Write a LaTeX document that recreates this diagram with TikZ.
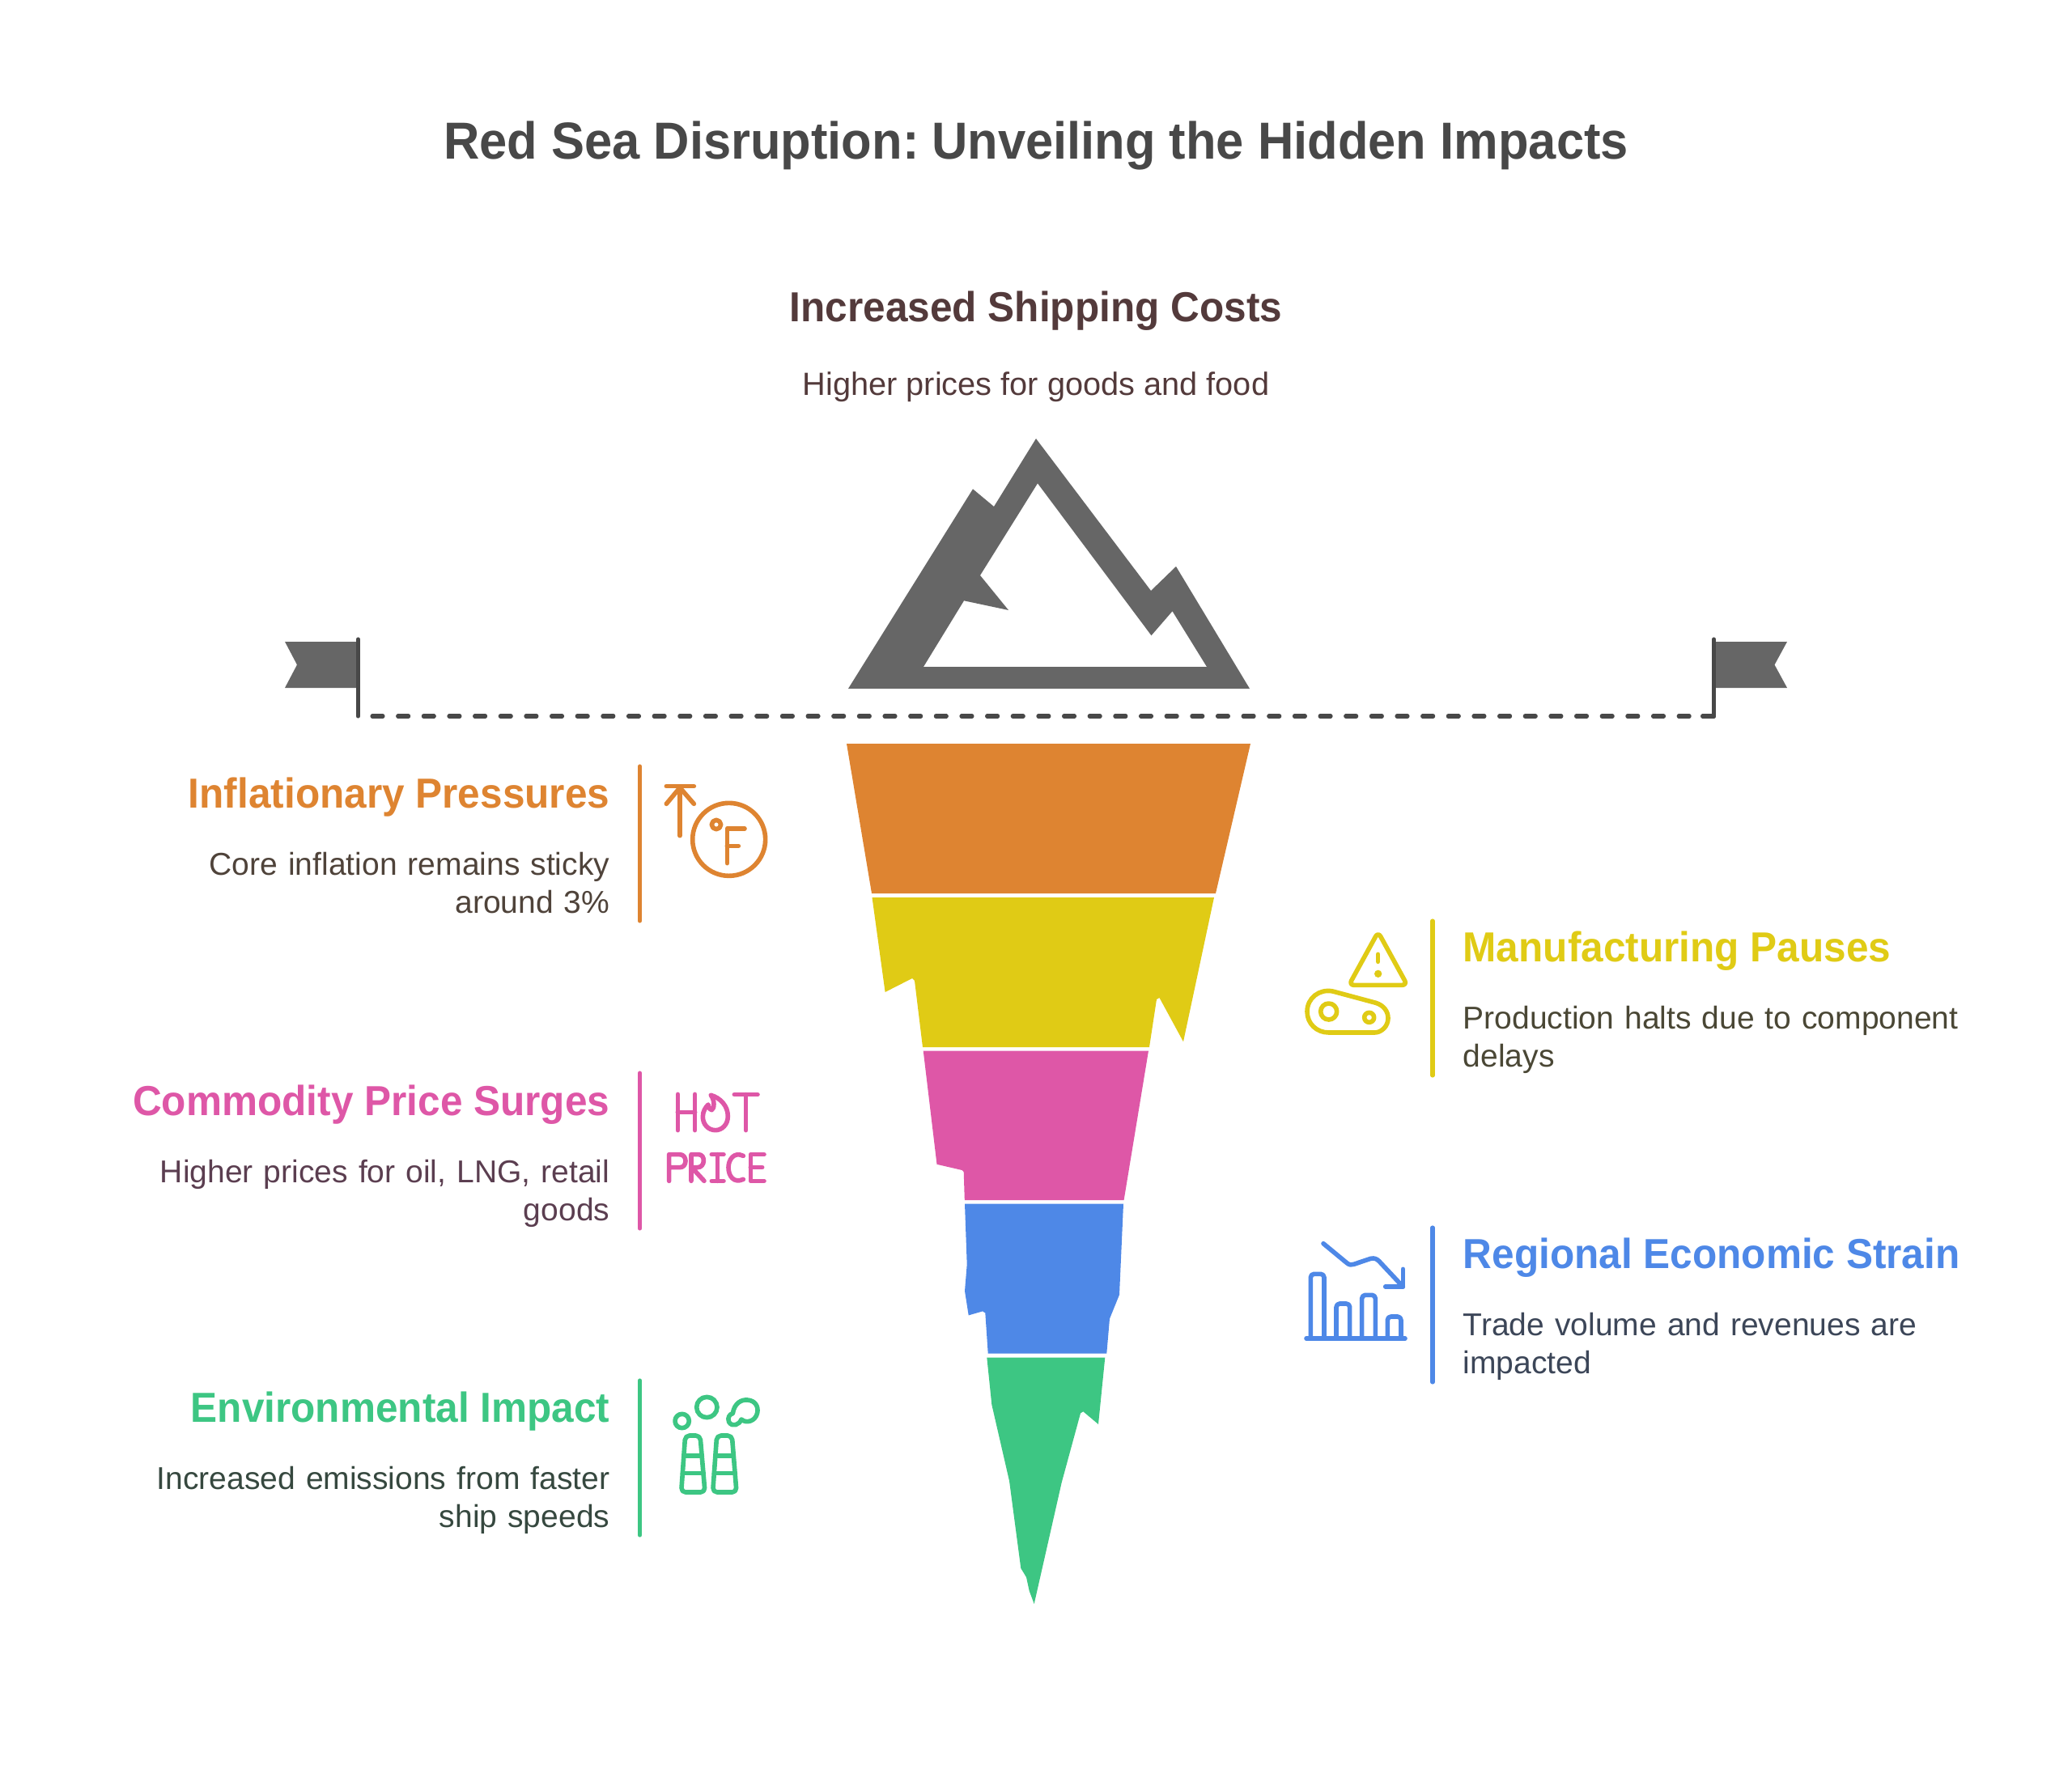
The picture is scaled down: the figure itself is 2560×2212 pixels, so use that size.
\documentclass[tikz,border=0pt]{standalone}
\usepackage{fontspec}
\setmainfont[BoldFeatures={FakeStretch=0.955}]{Liberation Sans}
\definecolor{cTitle}{HTML}{484848}
\definecolor{cTop}{HTML}{533A3B}
\definecolor{cGrey}{HTML}{666666}
\definecolor{cLine}{HTML}{484848}
\definecolor{cOrange}{HTML}{DE8431}
\definecolor{cYellow}{HTML}{E0CB15}
\definecolor{cPink}{HTML}{DE57A7}
\definecolor{cBlue}{HTML}{4E88E7}
\definecolor{cGreen}{HTML}{3DC683}
\definecolor{dOrange}{HTML}{4F433A}
\definecolor{dYellow}{HTML}{4A4735}
\definecolor{dPink}{HTML}{5B3E50}
\definecolor{dBlue}{HTML}{3C4658}
\definecolor{dGreen}{HTML}{36483F}
\tikzset{
  head/.style={font=\fontsize{14.75}{17}\selectfont\bfseries, inner sep=0pt},
  desc/.style={font=\fontsize{11.1}{13.6}\selectfont, inner sep=0pt, text width=7cm},
  ico/.style={line width=1.6pt, line cap=round, line join=round},
  bar/.style={line width=1.45pt, line cap=round},
}
\begin{document}
\begin{tikzpicture}[x=0.01cm, y=-0.01cm]
\useasboundingbox (0,0) rectangle (2560,2212);
% title
\node[font=\fontsize{18.3}{22}\selectfont\bfseries, text=cTitle, inner sep=0pt, anchor=base] (title) at (1280,196) {Red Sea Disruption:\hspace{-2pt} Unveiling the Hidden Impacts};
\node[head, text=cTop, anchor=base] (topHead) at (1280,397) {Increased Shipping Costs};
\node[font=\fontsize{11.3}{13.6}\selectfont, text=cTop, inner sep=0pt, anchor=base] (topDesc) at (1280,488) {Higher prices for goods and food};
% mountain
\fill[cGrey, even odd rule] (1048,851) -- (1202,604.3) -- (1228,626) -- (1280,542) -- (1422,730) -- (1453,700) -- (1544,851) -- cycle
  (1141,824) -- (1191,742.3) -- (1246,754) -- (1211,711) -- (1282,597.3) -- (1422.5,785.3) -- (1448.5,755.3) -- (1491,824) -- cycle;
% flags and water line
\fill[cGrey] (352,793) -- (440,793) -- (440,850) -- (352,850) -- (367,821.5) -- cycle;
\fill[cGrey] (2120,793) -- (2208,793) -- (2192.5,821.5) -- (2208,850) -- (2120,850) -- cycle;
\coordinate (poleL) at (442.5,885);
\coordinate (poleLtop) at (442.5,790);
\coordinate (poleR) at (2117.5,885);
\coordinate (poleRtop) at (2117.5,790);
\coordinate (lineL) at (460,885);
\draw[cLine, bar] (poleLtop) -- (poleL);
\draw[cLine, bar, line join=round] (poleRtop) -- (poleR) -- ++(-14,0);
\draw[cLine, bar, dash pattern=on 3.7pt off 5.3pt] (lineL) -- (poleR);
% iceberg layers
\fill[cOrange] (1046,919) -- (1545,919) -- (1502,1104) -- (1077,1104) -- cycle;
\fill[cYellow] (1077.5,1109) -- (1500,1109) -- (1462,1287.3) -- (1432.5,1233) -- (1429,1235) -- (1420,1294) -- (1140,1294) -- (1130,1212) -- (1127,1209) -- (1093.6,1226) -- cycle;
\fill[cPink] (1140.7,1298.5) -- (1419,1298.5) -- (1388.6,1483) -- (1191.8,1483) -- (1190.7,1448) -- (1188.6,1446) -- (1157.5,1438.8) -- cycle;
\fill[cBlue] (1192,1487.5) -- (1388,1487.5) -- (1383,1600) -- (1371,1629.6) -- (1367.3,1672.5) -- (1220.7,1672.5) -- (1217.3,1622.5) -- (1214,1620.4) -- (1196.7,1625.4) -- (1192,1595.4) -- (1194.7,1562.5) -- cycle;
\fill[cGreen] (1219.3,1677.5) -- (1365.3,1677.5) -- (1357,1760) -- (1338.3,1744.3) -- (1335,1746.4) -- (1311.7,1832) -- (1277.7,1982) -- (1271.7,1966) -- (1268,1949) -- (1261.3,1938) -- (1247,1830) -- (1225.3,1735.7) -- cycle;
% left column
\coordinate (orangeA) at (790.5,947);
\coordinate (orangeB) at (790.5,1138);
\coordinate (pinkA) at (790.5,1326);
\coordinate (pinkB) at (790.5,1518);
\coordinate (greenA) at (790.5,1706);
\coordinate (greenB) at (790.5,1897);
\draw[bar, cOrange] (orangeA) -- (orangeB);
\draw[bar, cPink] (pinkA) -- (pinkB);
\draw[bar, cGreen] (greenA) -- (greenB);
\node[head, text=cOrange, anchor=base east] (inflHead) at (754,998) {Inflationary Pressures};
\node[desc, align=right, text=dOrange, anchor=base east] (inflDesc) at (754,1081) {Core inflation remains sticky\\around 3\%};
\node[head, text=cPink, anchor=base east] (commHead) at (754,1378) {Commodity Price Surges};
\node[desc, align=right, text=dPink, anchor=base east] (commDesc) at (754,1461) {Higher prices for oil, LNG, retail\\goods};
\node[head, text=cGreen, anchor=base east] (envHead) at (754,1757) {Environmental Impact};
\node[desc, align=right, text=dGreen, anchor=base east] (envDesc) at (754,1840) {Increased emissions from faster\\ship speeds};
% right column
\coordinate (yellowA) at (1770,1138);
\coordinate (yellowB) at (1770,1329);
\coordinate (blueA) at (1770,1517);
\coordinate (blueB) at (1770,1708);
\draw[bar, cYellow] (yellowA) -- (yellowB);
\draw[bar, cBlue] (blueA) -- (blueB);
\node[head, text=cYellow, anchor=base west] (manuHead) at (1807,1188) {Manufacturing Pauses};
\node[desc, align=left, text=dYellow, anchor=base west] (manuDesc) at (1807,1271) {Production halts due to component\\delays};
\node[head, text=cBlue, anchor=base west] (regHead) at (1807,1567) {Regional Economic Strain};
\node[desc, align=left, text=dBlue, anchor=base west] (regDesc) at (1807,1650) {Trade volume and revenues are\\impacted};
% icon: temperature
\begin{scope}[shift={(780,940)}, scale=1/3, ico, cOrange]
  \draw (130,95) -- (232,95);
  \draw (180,278) -- (180,100);
  \draw (130,160) -- (180,100) -- (232,160);
  \draw (362,292) circle (135);
  \draw (315,237) circle (17);
  \draw (355,380) -- (355,252) -- (420,252);
  \draw (355,316) -- (397,316);
\end{scope}
% icon: hot price
\begin{scope}[shift={(790,1320)}, scale=1/3, ico, cPink]
  \draw (142,97) -- (142,230) (206,97) -- (206,230) (142,163) -- (206,163);
  \draw (265,100) .. controls (300,110) and (328,140) .. (328,178) .. controls (328,210) and (305,230) .. (282,230) .. controls (255,230) and (235,208) .. (235,180) .. controls (235,160) and (245,145) .. (255,135) .. controls (258,150) and (262,155) .. (268,155) .. controls (278,150) and (280,120) .. (265,100);
  \draw (352,98) -- (438,98) (395,98) -- (395,230);
  \draw (110,418) -- (110,320) -- (150,320) .. controls (178,320) and (178,368) .. (150,368) -- (110,368);
  \draw (192,418) -- (192,320) -- (220,320) .. controls (245,320) and (245,368) .. (215,368) -- (192,368) (205,380) -- (240,418);
  \draw (268,320) -- (312,320) (268,418) -- (312,418) (290,320) -- (290,418);
  \draw (385,325) .. controls (350,308) and (330,340) .. (330,368) .. controls (330,400) and (350,428) .. (385,412);
  \draw (462,320) -- (412,320) -- (412,418) -- (462,418) (412,368) -- (455,368);
\end{scope}
% icon: chimneys
\begin{scope}[shift={(790,1700)}, scale=1/3, ico, cGreen]
  \draw (158,168) circle (26);
  \draw (250,117) circle (38);
  \draw (346,140) .. controls (352,100) and (380,88) .. (400,90) .. controls (430,92) and (442,115) .. (437,138) .. controls (430,170) and (395,178) .. (378,162) .. controls (370,182) and (345,192) .. (332,172) .. controls (325,155) and (335,142) .. (346,140);
  \draw[rounded corners=1.5pt] (155,432) -- (170,222) -- (225,222) -- (243,432) -- cycle;
  \draw[rounded corners=1.5pt] (272,432) -- (287,222) -- (343,222) -- (360,432) -- cycle;
  \draw (165,297) -- (232,297) (160,362) -- (238,362);
  \draw (282,297) -- (349,297) (277,362) -- (355,362);
\end{scope}
% icon: warning and belt
\begin{scope}[shift={(1590,1130)}, scale=1/3, ico, cYellow]
  \draw[rounded corners=1.8pt] (338,65) -- (230,262) -- (446,262) -- cycle;
  \draw (338,148) -- (338,175);
  \fill (338,220) circle (14);
  \draw (155,438) .. controls (110,438) and (75,405) .. (75,360) .. controls (75,310) and (120,275) .. (170,285) -- (330,328) .. controls (360,338) and (375,360) .. (375,385) .. controls (375,415) and (350,438) .. (325,438) -- cycle;
  \draw (155,360) circle (30);
  \draw (305,382) circle (18);
\end{scope}
% icon: falling chart
\begin{scope}[shift={(1590,1520)}, scale=1/3, ico, cBlue]
  \draw (72,402) -- (438,402);
  \draw[rounded corners=1.2pt] (88,402) -- (88,163) -- (138,163) -- (138,402);
  \draw[rounded corners=1.2pt] (183,402) -- (183,273) -- (233,273) -- (233,402);
  \draw[rounded corners=1.2pt] (278,402) -- (278,241) -- (328,241) -- (328,402);
  \draw[rounded corners=1.2pt] (373,402) -- (373,321) -- (423,321) -- (423,402);
  \draw (135,50) -- (222,122) .. controls (232,130) and (238,130) .. (248,127) -- (310,106) .. controls (325,103) and (333,107) .. (342,116) -- (430,210);
  \draw (430,145) -- (430,210) -- (365,210);
\end{scope}
\end{tikzpicture}
\end{document}
